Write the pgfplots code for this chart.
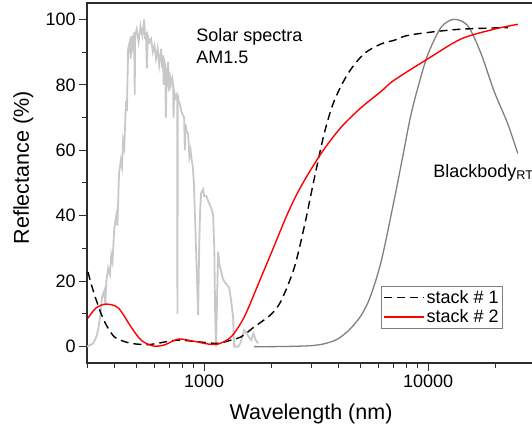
\documentclass[border=0pt]{standalone}
\usepackage{fontspec}
\setmainfont{Liberation Sans}
\usepackage{pgfplots}
\pgfplotsset{compat=1.18}
\definecolor{solar}{RGB}{200,200,200}
\definecolor{bbody}{RGB}{128,128,128}
\definecolor{frame}{RGB}{45,45,45}

\begin{document}
\begin{tikzpicture}
\useasboundingbox (0,0) rectangle (532pt,431pt);
\begin{axis}[
    at={(87pt,68pt)}, anchor=south west,
    scale only axis, width=448pt, height=360pt,
    xmode=log, xmin=300, xmax=30000,
    ymin=-5, ymax=105,
    axis line style={frame, line width=1.2pt},
    tick style={frame, line width=1pt},
    tick align=outside, tick pos=left,
    major tick length=8pt, minor tick length=5pt,
    xtick={1000,10000}, xticklabels={1000,10000},
    minor xtick={300,400,500,600,700,800,900,2000,3000,4000,5000,6000,7000,8000,9000,20000,30000},
    ytick={0,20,40,60,80,100},
    minor ytick={10,30,50,70,90},
    /pgf/number format/assume math mode=true,
    tick label style={font=\fontsize{18}{20}\selectfont},
    xlabel={Wavelength (nm)}, ylabel={Reflectance (\%)},
    label style={font=\fontsize{21.5}{24}\selectfont},
    xlabel style={at={(axis description cs:0.5,-0.158)}, anchor=base},
    ylabel style={at={(axis description cs:-0.142,0.542)}, anchor=center},
    legend style={at={(0.656,0.214)}, anchor=north west, draw=gray,
        line width=0.8pt, font=\fontsize{18}{20}\selectfont,
        inner sep=2pt, row sep=1pt, cells={anchor=west}},
    legend image code/.code={\draw[#1] (0pt,0pt) -- (40pt,0pt);},
]

% solar spectrum AM1.5 (shape only)
\addplot[solar, line width=1.8pt, forget plot] coordinates {
(300,0)(310,0.5)(320,1)(330,3)(336,5)(345,10)(350,15)(358,17)(362,13)(366,20)
(373,24)(380,22)(385,28)(390,26)(397,36)(405,40)(410,37)(417,53)(425,57)(430,55)
(435,63)(440,61)(448,75)(452,72)(455,82)(458,91)(465,93)(470,88)(475,95)(480,92)
(487,96)(490,77)(492,95)(500,97)(510,93)(520,98)(530,95)(540,100)(545,94)(550,96)
(555,85)(560,95)(570,93)(580,94)(590,90)(600,92)(610,88)(620,91)(630,86)(640,90)
(643,91)(650,85)(655,89)(660,80)(665,87)(670,86)(675,70)(680,85)(686,83)(690,87)
(695,78)(700,84)(710,80)(720,82)(727,80)(730,70)(735,78)(745,76)(755,77)(758,76)
(760,10)(763,77)(770,75)(780,74)(790,72)(800,71)(814,70)(820,60)(825,68)(835,66)
(848,65)(860,58)(870,60)(880,57)(890,55)(900,50)(910,40)(920,30)(930,20)(940,9.6)
(950,30)(960,42)(970,47)(990,48)(1000,46)(1021,46)(1050,44)(1080,42)(1097,40)
(1110,30)(1120,10)(1130,0)(1140,12)(1155,29)(1170,25)(1191,23)(1210,21)(1228,20)
(1260,19)(1293,18)(1320,14)(1347,9)(1361,0)(1380,0)(1420,0)(1450,1)(1480,3)
(1509,5)(1550,4)(1580,3)(1621,2)(1660,4)(1700,2)(1742,1)
};

% blackbody at room temperature (normalised)
\addplot[bbody, line width=1.3pt, smooth, forget plot] coordinates {
(1671,0)(2000,0)(2500,0.1)(3000,0.3)(3400,0.8)(3800,1.8)(4084,3)(4500,5.5)(5017,9.5)
(5500,15)(6170,26)(7047,44.7)(7700,58)(8388,71)(9200,81.5)(10000,89.5)
(11430,97.6)(13053,100)(15050,98)(17240,89.5)(19710,78)(22700,68)(25130,59)
};

\addplot[black, line width=1.4pt, smooth, dash pattern=on 8pt off 5pt] coordinates {
(303,22.8)(320,17)(347,10)(370,6)(397,3)(430,1.8)(472,1)(520,0.7)(562,0.6)(620,1)
(712,1.8)(789,2)(875,1.7)(1000,1.3)(1155,1)(1320,2)(1463,3)(1671,6)(1796,7.5)
(2000,10)(2207,14)(2523,24)(2796,36.5)(3095,51)(3433,65)(3803,75)(4393,83.5)
(5178,89.5)(6170,92.5)(7047,93.6)(8000,95)(10000,96)(14020,97)(22700,97.5)
};
\addlegendentry{stack \# 1}

\addplot[red, line width=1.4pt, smooth] coordinates {
(303,8.7)(329,11.8)(365,13)(414,11.8)(472,6)(523,2)(592,0.2)(663,0.5)(766,2.3)
(875,1.8)(1000,1)(1042,0.8)(1155,0.8)(1320,3)(1509,9)(1742,19)(1991,28.5)(2371,41)
(2709,49)(3327,59)(4084,67)(5017,73)(6170,78)(7047,81.4)(10000,88)(14020,94)
(19710,97)(25130,98.5)
};
\addlegendentry{stack \# 2}

\node[anchor=north west, align=left, inner sep=0pt, font=\fontsize{18}{22}\selectfont]
    at (axis cs:921,97.3) {Solar spectra\\AM1.5};
\node[anchor=base west, inner sep=0pt, font=\fontsize{18}{22}\selectfont]
    at (axis cs:10520,51.8) {Blackbody$_{\mathrm{RT}}$};
\end{axis}
\end{tikzpicture}
\end{document}
